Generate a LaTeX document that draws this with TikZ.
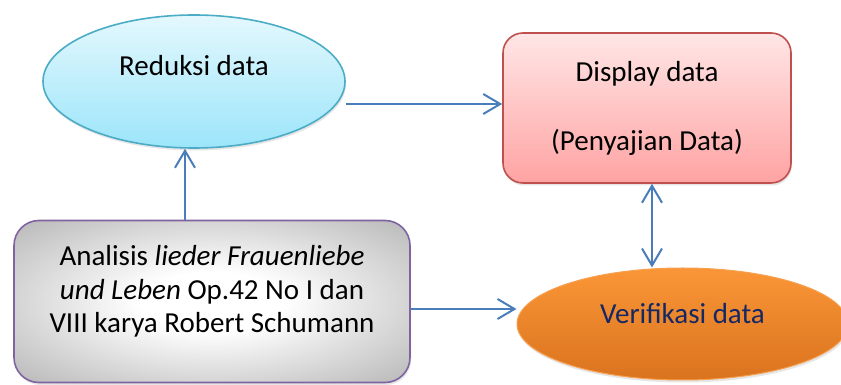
\documentclass[tikz,border=0pt]{standalone}
\usepackage{fontspec}
\setmainfont{Carlito}
\usepackage{tikz}
\usetikzlibrary{arrows.meta,shapes,shadows}
\definecolor{arrowBlue}{RGB}{74,126,187}
\definecolor{cyanTop}{RGB}{228,248,253}
\definecolor{cyanBot}{RGB}{156,229,250}
\definecolor{cyanLine}{RGB}{75,172,198}
\definecolor{redTop}{RGB}{255,230,230}
\definecolor{redBot}{RGB}{255,163,163}
\definecolor{redLine}{RGB}{192,80,77}
\definecolor{grayOut}{RGB}{145,145,145}
\definecolor{grayCorner}{RGB}{128,128,128}
\definecolor{purpleLine}{RGB}{128,100,162}
\definecolor{orangeTop}{RGB}{250,150,55}
\definecolor{orangeBot}{RGB}{218,115,30}
\definecolor{orangeLine}{RGB}{247,160,80}
\definecolor{navyText}{RGB}{22,40,100}
\pgfdeclareradialshading{grayGlow}{\pgfpoint{0bp}{0bp}}{color(0bp)=(white); color(9bp)=(white); color(50bp)=(grayOut); color(72bp)=(grayCorner)}
\newcommand{\boxfont}{\fontsize{29}{33.5}\selectfont}
\tikzstyle{edge}=[>={Straight Barb[length=17pt,width=20pt]}, line width=2pt, draw=arrowBlue]
\tikzstyle{softShadow}=[drop shadow={shadow xshift=1pt, shadow yshift=-2.5pt, opacity=0.2}]
\tikzstyle{blueE}=[ellipse, draw=cyanLine, line width=1.6pt, top color=cyanTop, bottom color=cyanBot, softShadow, font=\boxfont, inner sep=0pt]
\tikzstyle{orangeE}=[ellipse, draw=orangeLine, line width=1pt, top color=orangeTop, bottom color=orangeBot, softShadow, font=\boxfont, text=navyText, inner sep=0pt]
\tikzstyle{redR}=[rectangle, rounded corners=20pt, draw=redLine, line width=1.6pt, top color=redTop, bottom color=redBot, softShadow, font=\boxfont, align=center]
\tikzstyle{grayR}=[rectangle, rounded corners=25pt, draw=purpleLine, line width=1.6pt, shading=grayGlow, softShadow, font=\boxfont, align=center]

\begin{document}
\begin{tikzpicture}[x=1pt, y=1pt]
      \useasboundingbox (0,0) rectangle (841,385);
      %%%%%%%%%%%% Kotak dan elips
      \node(R) [blueE, minimum width=302pt, minimum height=133pt, text height=20pt, text depth=31pt] at (194, 303.5){Reduksi data};
      \node(D) [redR, minimum width=288pt, minimum height=150pt] at (647, 277){Display data\\[35.5pt](Penyajian Data)};
      \node(A) [grayR, minimum width=396pt, minimum height=162pt, text height=70pt, text depth=7pt] at (212, 83.5){Analisis \textit{lieder Frauenliebe}\\\textit{und Leben} Op.42 No I dan\\VIII karya Robert Schumann};
      \node(V) [orangeE, minimum width=331pt, minimum height=112pt, text height=20pt, text depth=20pt] at (682.5, 61){Verifikasi data};
      %%%%%%%%%%%% Panah
      \draw[edge, ->] ([yshift=-22.5pt]R.east) to ([yshift=-22.5pt]R.east -| D.west);
      \draw[edge, ->] ([xshift=-9pt]R.south |- A.north) to ([xshift=-9pt]R.south);
      \draw[edge, <->] ([xshift=5pt]D.south) to ([xshift=5pt]D.south |- V.north);
      \draw[edge, ->] ([yshift=-7.5pt]A.east) to ([yshift=-7.5pt]A.east -| V.west);
\end{tikzpicture}
\end{document}
